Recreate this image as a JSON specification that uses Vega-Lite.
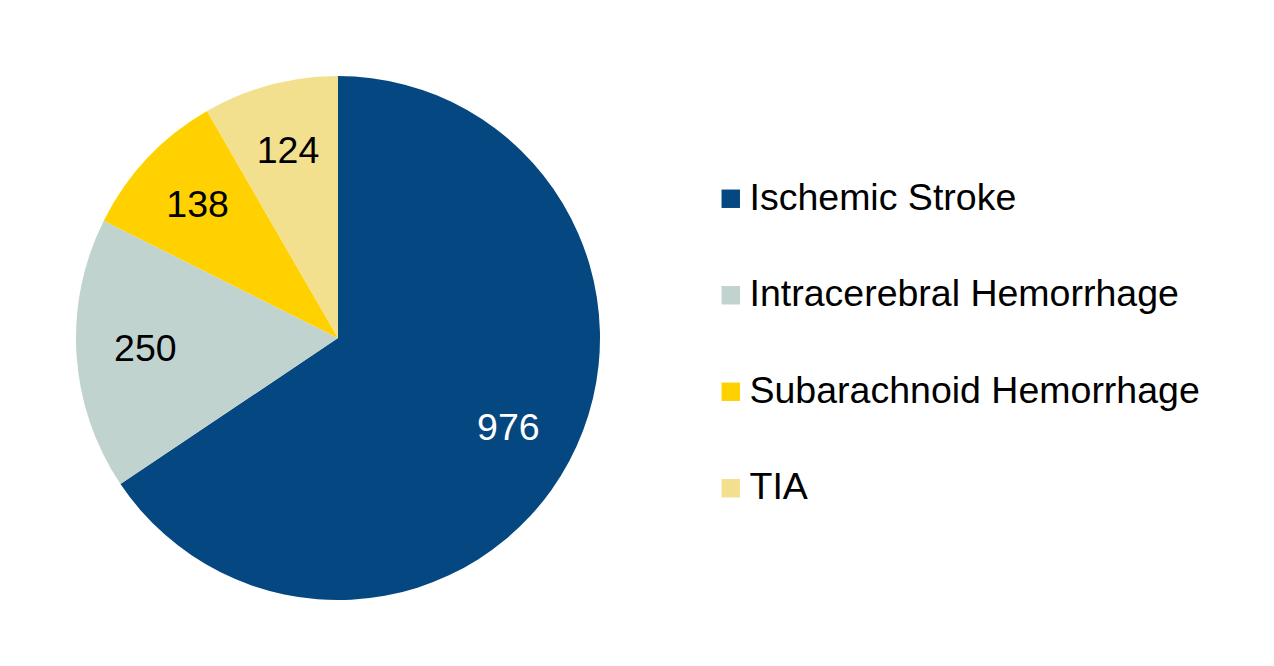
{
  "$schema": "https://vega.github.io/schema/vega-lite/v6.json",
  "autosize": "none",
  "width": 676,
  "height": 676,
  "padding": {"left": 0, "top": 0, "right": 598, "bottom": 0},
  "background": "white",
  "config": {"view": {"stroke": null}, "font": "Liberation Sans"},
  "data": {"values": [
    {"category": "Ischemic Stroke", "count": 976, "rank": 1},
    {"category": "Intracerebral Hemorrhage", "count": 250, "rank": 2},
    {"category": "Subarachnoid Hemorrhage", "count": 138, "rank": 3},
    {"category": "TIA", "count": 124, "rank": 4}
  ]},
  "encoding": {
    "theta": {"field": "count", "type": "quantitative", "stack": true},
    "order": {"field": "rank", "type": "quantitative"}
  },
  "layer": [
    {
      "mark": {"type": "arc", "outerRadius": 262},
      "encoding": {
        "color": {
          "field": "category", "type": "nominal",
          "scale": {
            "domain": ["Ischemic Stroke", "Intracerebral Hemorrhage", "Subarachnoid Hemorrhage", "TIA"],
            "range": ["#054780", "#C1D3CF", "#FFD100", "#F3E08E"]
          },
          "legend": {
            "orient": "none", "legendX": 712, "legendY": 180,
            "title": null, "symbolType": "square", "symbolSize": 340,
            "symbolStrokeWidth": 0, "labelFontSize": 37.5, "labelColor": "black",
            "labelFont": "Liberation Sans", "rowPadding": 57.5, "labelOffset": 0,
            "padding": 0, "labelLimit": 600
          }
        }
      }
    },
    {
      "mark": {"type": "text", "radius": 193, "fontSize": 37.5, "font": "Liberation Sans", "align": "center", "baseline": "middle"},
      "encoding": {
        "text": {"field": "count", "type": "quantitative"},
        "color": {
          "condition": {"test": "datum.category === 'Ischemic Stroke'", "value": "white"},
          "value": "black"
        }
      }
    }
  ]
}
